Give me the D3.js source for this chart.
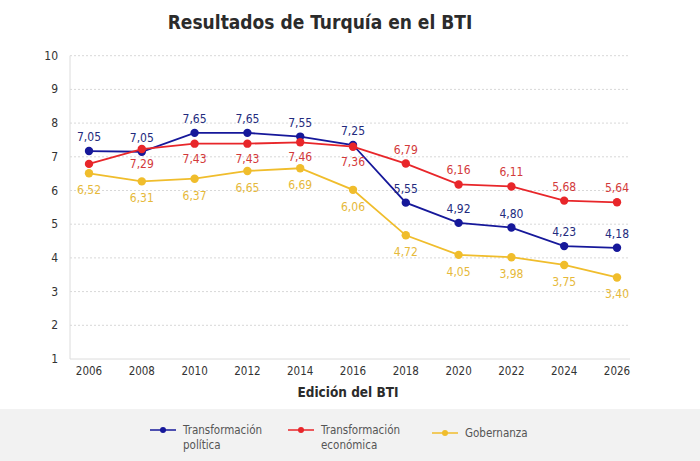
<!DOCTYPE html>
<html>
<head>
<meta charset="utf-8">
<script src="https://cdn.jsdelivr.net/npm/d3@7"></script>
<style>
body { margin: 0; background: #fff; }
text { font-family: "Liberation Sans Narrow", "DejaVu Sans Condensed", "Roboto", sans-serif; }
</style>
</head>
<body>
<script>
var years = ["2006","2008","2010","2012","2014","2016","2018","2020","2022","2024","2026"];
var yTicks = [1,2,3,4,5,6,7,8,9,10];
// plotted positions
var politica = [7.17, 7.15, 7.71, 7.71, 7.60, 7.35, 5.64, 5.04, 4.90, 4.35, 4.30];
var economica = [6.79, 7.23, 7.39, 7.39, 7.43, 7.30, 6.80, 6.18, 6.12, 5.70, 5.65];
var gobernanza = [6.51, 6.27, 6.35, 6.58, 6.66, 6.02, 4.67, 4.09, 4.02, 3.79, 3.42];
// printed labels
var politicaLbl = ["7,05","7,05","7,65","7,65","7,55","7,25","5,55","4,92","4,80","4,23","4,18"];
var economicaLbl = ["","7,29","7,43","7,43","7,46","7,36","6,79","6,16","6,11","5,68","5,64"];
var gobernanzaLbl = ["6,52","6,31","6,37","6,65","6,69","6,06","4,72","4,05","3,98","3,75","3,40"];
var seriesNames = [["Transformación","política"],["Transformación","económica"],["Gobernanza"]];

var series = [
  {name: seriesNames[0], vals: politica, lbl: politicaLbl, color: "#16189a", text: "#232b7e", dy: function(i){return -10;}},
  {name: seriesNames[1], vals: economica, lbl: economicaLbl, color: "#e8262a", text: "#d33a3b", dy: function(i){return i <= 5 ? 19 : -10;}},
  {name: seriesNames[2], vals: gobernanza, lbl: gobernanzaLbl, color: "#f0bd2c", text: "#e6b93a", dy: function(i){return 21;}}
];

var svg = d3.select("body").append("svg").attr("width",700).attr("height",461);

var x = d3.scalePoint().domain(years).range([89,617]);
var y = d3.scaleLinear().domain([1,10]).range([359,55.7]);

svg.append("text").text("Resultados de Turquía en el BTI")
  .attr("x",320).attr("y",29).attr("text-anchor","middle")
  .style("font-size","19px").style("font-weight","700").style("fill","#2b2b2b");

// grid
svg.append("g").selectAll("line").data(yTicks.filter(function(d){return d > 1;}))
  .enter().append("line")
  .attr("x1",70).attr("x2",630)
  .attr("y1",function(d){return y(d);}).attr("y2",function(d){return y(d);})
  .style("stroke","#d8d8d8").style("stroke-dasharray","2,2");
svg.append("line").attr("x1",70).attr("x2",630).attr("y1",y(1)).attr("y2",y(1)).style("stroke","#dcdcdc");
svg.append("line").attr("x1",70).attr("x2",70).attr("y1",y(10)).attr("y2",y(1)).style("stroke","#dcdcdc");

svg.append("g").selectAll("text").data(yTicks).enter().append("text")
  .text(function(d){return d;})
  .attr("x",58).attr("y",function(d){return y(d)+4;})
  .attr("text-anchor","end").style("font-size","12px").style("fill","#333");

svg.append("g").selectAll("text").data(years).enter().append("text")
  .text(function(d){return d;})
  .attr("x",function(d){return x(d);}).attr("y",375)
  .attr("text-anchor","middle").style("font-size","11.5px").style("fill","#333");

svg.append("text").text("Edición del BTI")
  .attr("x",348).attr("y",397).attr("text-anchor","middle")
  .style("font-size","13.5px").style("font-weight","700").style("fill","#2b2b2b");

var line = d3.line().x(function(d,i){return x(years[i]);}).y(function(d){return y(d);});

series.forEach(function(s){
  var g = svg.append("g");
  g.append("path").attr("d", line(s.vals))
    .style("fill","none").style("stroke",s.color).style("stroke-width",1.8);
  g.selectAll("circle").data(s.vals).enter().append("circle")
    .attr("cx",function(d,i){return x(years[i]);})
    .attr("cy",function(d){return y(d);})
    .attr("r",4.2).style("fill",s.color);
});
series.forEach(function(s){
  svg.append("g").selectAll("text").data(s.vals).enter().append("text")
    .text(function(d,i){return s.lbl[i];})
    .attr("x",function(d,i){return x(years[i]);})
    .attr("y",function(d,i){return y(d)+s.dy(i);})
    .attr("text-anchor","middle").style("font-size","12px").style("fill",s.text);
});

// legend
svg.append("rect").attr("x",0).attr("y",409).attr("width",700).attr("height",52).style("fill","#f2f2f2");
var legX = [150, 288, 432];
var leg = svg.append("g").selectAll("g").data(series).enter().append("g")
  .attr("transform",function(d,i){return "translate("+legX[i]+","+(i==2?433:430)+")";});
leg.append("line").attr("x1",0).attr("x2",26).attr("y1",0).attr("y2",0)
  .style("stroke",function(d){return d.color;}).style("stroke-width",1.5);
leg.append("circle").attr("cx",13).attr("cy",0).attr("r",3).style("fill",function(d){return d.color;});
leg.append("text").attr("x",33).attr("y",4)
  .style("font-size","11.5px").style("fill","#555")
  .selectAll("tspan").data(function(d){return d.name;}).enter().append("tspan")
  .attr("x",33).attr("dy",function(d,i){return i==0?0:15;})
  .text(function(d){return d;});
</script>
</body>
</html>
